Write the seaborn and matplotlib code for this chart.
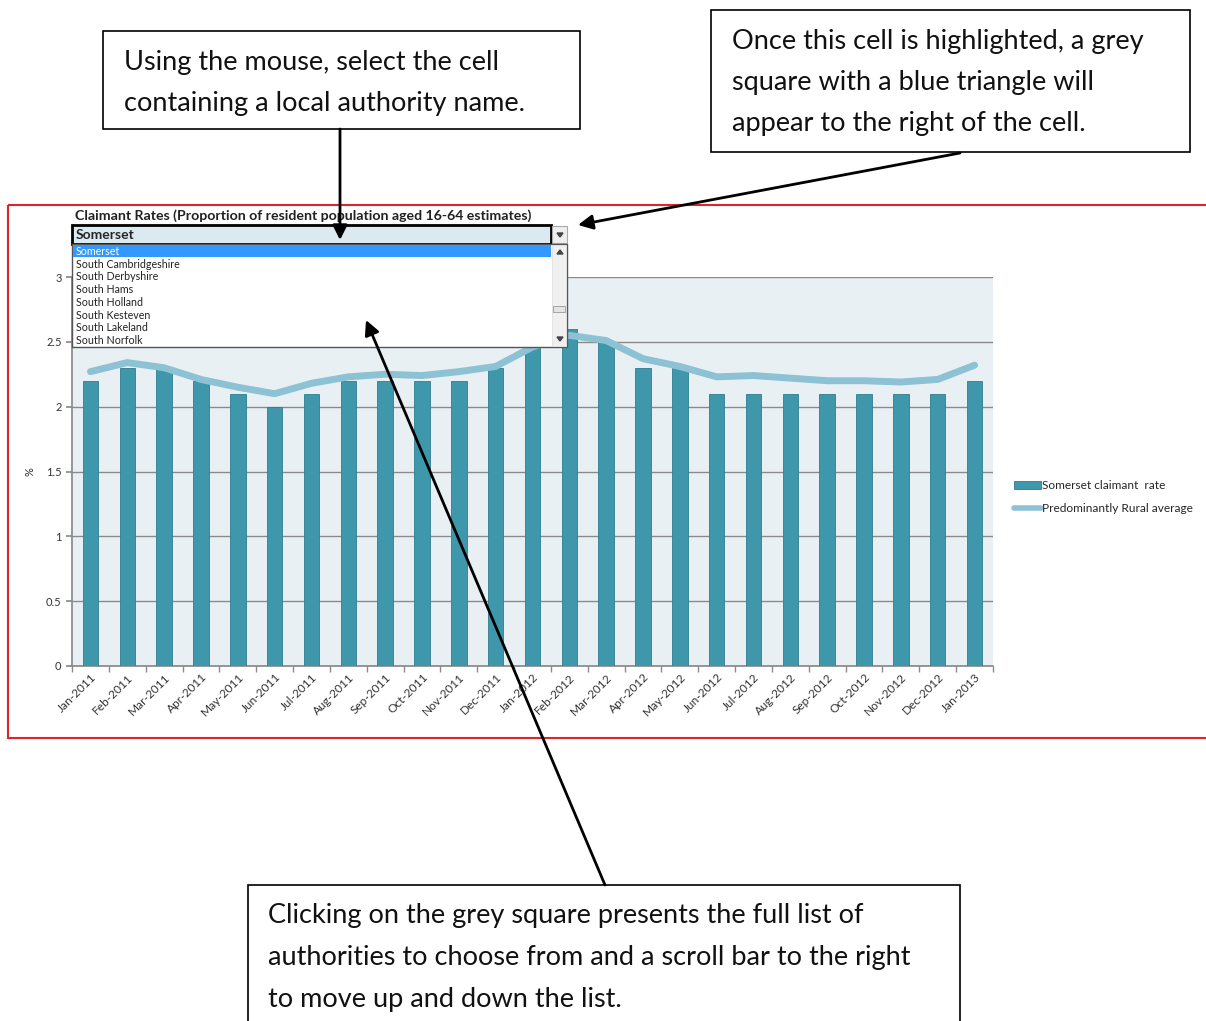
import numpy as np
import pandas as pd
import seaborn as sns
import matplotlib
matplotlib.use("Agg")
import matplotlib.pyplot as plt
from matplotlib.patches import Rectangle, Polygon
from matplotlib.lines import Line2D
from matplotlib.ticker import MultipleLocator, FormatStrFormatter, FixedLocator

# Data
months = ["Jan-2011", "Feb-2011", "Mar-2011", "Apr-2011", "May-2011", "Jun-2011",
          "Jul-2011", "Aug-2011", "Sep-2011", "Oct-2011", "Nov-2011", "Dec-2011",
          "Jan-2012", "Feb-2012", "Mar-2012", "Apr-2012", "May-2012", "Jun-2012",
          "Jul-2012", "Aug-2012", "Sep-2012", "Oct-2012", "Nov-2012", "Dec-2012",
          "Jan-2013"]
somerset = [2.2, 2.3, 2.3, 2.2, 2.1, 2.0, 2.1, 2.2, 2.2, 2.2, 2.2, 2.3,
            2.5, 2.6, 2.5, 2.3, 2.3, 2.1, 2.1, 2.1, 2.1, 2.1, 2.1, 2.1, 2.2]
rural_avg = [2.27, 2.34, 2.30, 2.21, 2.15, 2.10, 2.18, 2.23, 2.25, 2.24, 2.27, 2.31,
             2.46, 2.55, 2.51, 2.37, 2.31, 2.23, 2.24, 2.22, 2.20, 2.20, 2.19, 2.21, 2.32]
authorities = ["Somerset", "South Cambridgeshire", "South Derbyshire", "South Hams",
               "South Holland", "South Kesteven", "South Lakeland", "South Norfolk"]

chart_title = "Claimant Rates (Proportion of resident population aged 16-64 estimates)"
note_select = "Using the mouse, select the cell\ncontaining a local authority name."
note_square = "Once this cell is highlighted, a grey\nsquare with a blue triangle will\nappear to the right of the cell."
note_list = ("Clicking on the grey square presents the full list of\n"
             "authorities to choose from and a scroll bar to the right\n"
             "to move up and down the list.")

W, H = 1206, 1021
BAR = "#3f97ab"
LINE = "#8dc2d5"


def box(x0, y0, x1, y1):
    # pixel box -> figure rect
    return [x0 / W, 1 - y1 / H, (x1 - x0) / W, (y1 - y0) / H]


def main():
    sns.set_theme(style="white")
    plt.rcParams['font.family'] = ['Lato', 'DejaVu Sans']

    df = pd.DataFrame({"month": months, "somerset": somerset, "rural": rural_avg})

    fig = plt.figure(figsize=(W / 100, H / 100), dpi=100)
    fig.patch.set_facecolor("white")

    ax = fig.add_axes(box(72, 277, 993, 666))
    ax.set_facecolor("#e9f0f4")
    sns.barplot(data=df, x="month", y="somerset", color=BAR, width=0.42,
                saturation=1, edgecolor="#2f7d8f", linewidth=0.6, ax=ax, zorder=3)
    sns.pointplot(data=df, x="month", y="rural", color=LINE, markers="",
                  linestyles="-", errorbar=None, ax=ax, zorder=4)
    for ln in ax.lines:
        ln.set_linewidth(5)
        ln.set_solid_capstyle("round")

    ax.set_xlim(-0.5, len(months) - 0.5)
    ax.set_ylim(0, 3)
    ax.yaxis.set_major_locator(MultipleLocator(0.5))
    ax.yaxis.set_major_formatter(FormatStrFormatter('%g'))
    ax.grid(axis="y", color="#8a8a8a", linewidth=1, zorder=1)
    ax.set_axisbelow(True)
    ax.xaxis.set_minor_locator(FixedLocator(np.arange(-0.5, len(months), 1.0)))
    ax.tick_params(axis="x", which="major", length=0, labelsize=8.6, pad=4,
                   labelcolor="#333333")
    ax.tick_params(axis="x", which="minor", length=4, color="#8a8a8a", bottom=True)
    ax.tick_params(axis="y", length=4, color="#8a8a8a", left=True, labelsize=8,
                   labelcolor="#333333")
    plt.setp(ax.get_xticklabels(), rotation=45, ha="right", rotation_mode="anchor")
    for s in ["top", "right"]:
        ax.spines[s].set_visible(False)
    for s in ["left", "bottom"]:
        ax.spines[s].set_color("#8a8a8a")
    ax.set_xlabel("")
    ax.set_ylabel("%", fontsize=8)
    ax.yaxis.set_label_coords(-(72 - 36) / 921, 0.5)

    handles = [Rectangle((0, 0), 1, 1, facecolor=BAR, edgecolor="#2f7d8f", linewidth=0.6),
               Line2D([0], [0], color=LINE, linewidth=4, solid_capstyle="round")]
    fig.legend(handles, ["Somerset claimant  rate", "Predominantly Rural average"],
               loc="center left", bbox_to_anchor=(1003 / W, 1 - 497 / H), frameon=False,
               fontsize=8.6, handlelength=2.3, handletextpad=0.05, labelspacing=1.0,
               handleheight=0.6)

    # overlay in pixel coordinates for the screenshot furniture
    ov = fig.add_axes([0, 0, 1, 1], zorder=10)
    ov.set_xlim(0, W)
    ov.set_ylim(H, 0)
    ov.axis("off")
    ov.patch.set_alpha(0)

    # red frame around chart
    ov.add_patch(Rectangle((8, 205), 1210, 533, fill=False, edgecolor="#d9272a", lw=1.5))

    ov.text(75, 216, chart_title, fontsize=10.2, fontweight="bold", color="#222222",
            va="center", ha="left")

    # dropdown cell
    ov.add_patch(Rectangle((72, 225), 479, 19, facecolor="#dbe9f0", edgecolor="black", lw=2))
    ov.text(76, 235, authorities[0], fontsize=10, fontweight="bold", va="center", ha="left")
    ov.add_patch(Rectangle((552, 226), 15, 17, facecolor="#eeeeee", edgecolor="#aaaaaa", lw=0.8))
    ov.add_patch(Polygon([(557, 233), (563, 233), (560, 237)], color="#444444"))

    # opened list
    ov.add_patch(Rectangle((72, 244), 495, 103, facecolor="white", edgecolor="#555555", lw=1))
    ov.add_patch(Rectangle((73, 245), 478, 12, facecolor="#3399ff", edgecolor="none"))
    for i, name in enumerate(authorities):
        ov.text(76, 251.5 + i * 12.7, name, fontsize=7.7, va="center", ha="left",
                color="white" if i == 0 else "#222222")
    ov.add_patch(Rectangle((552, 245), 14, 101, facecolor="#f0f0f0", edgecolor="#dddddd", lw=0.5))
    ov.add_patch(Rectangle((553, 306), 12, 6, facecolor="#e4e4e4", edgecolor="#999999", lw=0.6))
    ov.add_patch(Polygon([(557, 254), (563, 254), (560, 250)], color="#444444"))
    ov.add_patch(Polygon([(557, 337), (563, 337), (560, 341)], color="#444444"))

    # callout boxes
    tkw = dict(fontsize=19.5, va="baseline", ha="left", color="#111111")
    ov.add_patch(Rectangle((103, 31), 477, 98, facecolor="white", edgecolor="black", lw=1.2))
    for i, line in enumerate(note_select.split("\n")):
        ov.text(124, 70 + i * 41, line, **tkw)
    ov.add_patch(Rectangle((711, 10), 479, 142, facecolor="white", edgecolor="black", lw=1.2))
    for i, line in enumerate(note_square.split("\n")):
        ov.text(732, 49 + i * 41, line, **tkw)
    ov.add_patch(Rectangle((248, 885), 712, 160, facecolor="white", edgecolor="black", lw=1.2))
    for i, line in enumerate(note_list.split("\n")):
        ov.text(268, 923 + i * 42, line, **tkw)

    arrow = dict(arrowstyle="-|>", color="black", lw=2, mutation_scale=22, shrinkA=0, shrinkB=0)
    ov.annotate("", xy=(340, 240), xytext=(340, 129), arrowprops=arrow)
    ov.annotate("", xy=(578, 225), xytext=(960, 153), arrowprops=arrow)
    ov.annotate("", xy=(366, 320), xytext=(605, 885), arrowprops=arrow)

    fig.savefig("out.png", dpi=100)


if __name__ == "__main__":
    main()
